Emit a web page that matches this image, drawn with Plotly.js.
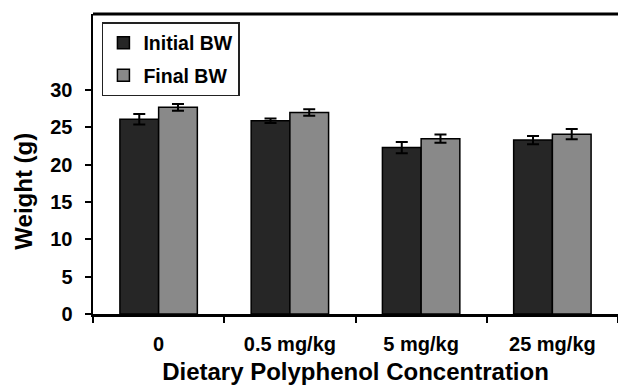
<!DOCTYPE html>
<html>
<head>
<meta charset="utf-8">
<script src="https://cdn.plot.ly/plotly-3.0.1.min.js"></script>
<style>html,body{margin:0;padding:0;background:#fff;}#chart{width:618px;height:389px;}</style>
</head>
<body>
<div id="chart"></div>
<script>
const categories = ["0", "0.5 mg/kg", "5 mg/kg", "25 mg/kg"];
const initialBW = [26.1, 25.9, 22.3, 23.3];
const initialErr = [0.7, 0.3, 0.75, 0.55];
const finalBW = [27.7, 27.0, 23.5, 24.1];
const finalErr = [0.45, 0.45, 0.55, 0.7];
const yTicks = [0, 5, 10, 15, 20, 25, 30];

const FONT = "Liberation Sans, Arial, sans-serif";

const traces = [
  {
    type: "bar", name: "Initial BW", x: categories, y: initialBW,
    legendgroup: "a",
    marker: {color: "#262626", line: {color: "#000", width: 1.5}},
    error_y: {type: "data", array: initialErr, visible: true, color: "#000", thickness: 2, width: 6}
  },
  {
    type: "bar", name: "Final BW", x: categories, y: finalBW,
    legendgroup: "b",
    marker: {color: "#898989", line: {color: "#000", width: 1.5}},
    error_y: {type: "data", array: finalErr, visible: true, color: "#000", thickness: 2, width: 6}
  }
];

const layout = {
  width: 618, height: 389,
  margin: {l: 93, r: 0, t: 14, b: 75},
  paper_bgcolor: "#fff", plot_bgcolor: "#fff",
  barmode: "group", bargap: 0.41, bargroupgap: 0,
  font: {family: FONT, color: "#000"},
  showlegend: true,
  legend: {
    x: 0.017, y: 0.973, xanchor: "left", yanchor: "top",
    bordercolor: "#222", borderwidth: 1.5, bgcolor: "#fff",
    font: {family: FONT, size: 19.5, weight: "bold", color: "#000"},
    traceorder: "grouped", tracegroupgap: 4
  },
  xaxis: {
    type: "category",
    showline: true, linecolor: "#000", linewidth: 2.5,
    ticks: "outside", tickson: "boundaries", ticklen: 6, tickwidth: 2, tickcolor: "#000",
    ticklabelstandoff: 10,
    tickfont: {family: FONT, size: 20, weight: "bold", color: "#000"},
    showgrid: false, zeroline: false,
    title: {text: "Dietary Polyphenol Concentration", font: {family: FONT, size: 24, weight: "bold", color: "#000"}, standoff: 10}
  },
  yaxis: {
    range: [0, 40.2],
    tickmode: "array", tickvals: yTicks, ticktext: yTicks.map(String),
    showline: true, linecolor: "#000", linewidth: 2.5,
    ticks: "outside", ticklen: 6, tickwidth: 2, tickcolor: "#000",
    ticklabelstandoff: 8,
    tickfont: {family: FONT, size: 20, weight: "bold", color: "#000"},
    showgrid: false, zeroline: false
  },
  annotations: [
    {
      text: "Weight (g)", textangle: -90,
      xref: "paper", yref: "paper", x: -0.134, y: 0.41,
      xanchor: "center", yanchor: "middle", showarrow: false,
      font: {family: FONT, size: 24, weight: "bold", color: "#000"}
    }
  ],
  shapes: [
    {type: "line", xref: "paper", yref: "paper", x0: 0, x1: 1, y0: 1, y1: 1, line: {color: "#000", width: 3}}
  ]
};

Plotly.newPlot("chart", traces, layout, {displayModeBar: false, staticPlot: true});
</script>
</body>
</html>
